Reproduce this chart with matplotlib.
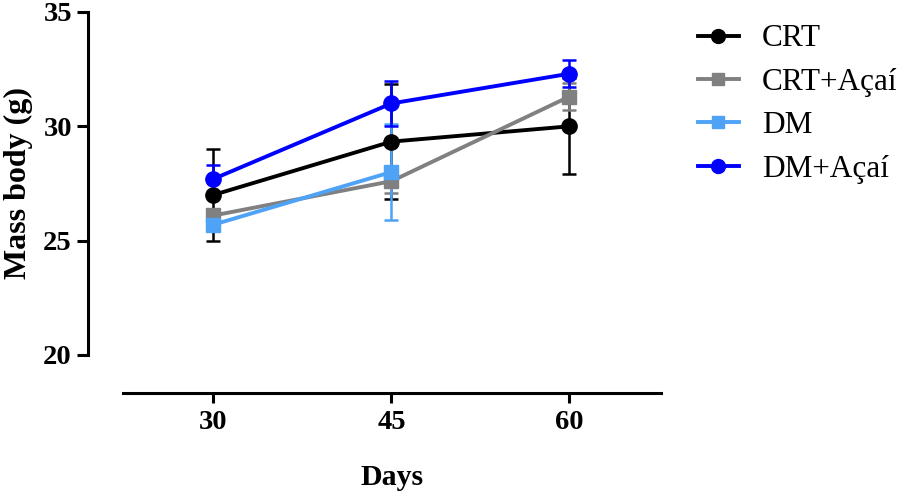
import matplotlib
matplotlib.use("Agg")
import matplotlib.pyplot as plt
from matplotlib.lines import Line2D

plt.rcParams['font.family'] = ['Liberation Serif', 'DejaVu Serif']

days = [30, 45, 60]

crt = [27.0, 29.33, 30.0]
crt_err = [2.0, 2.5, 2.1]
crt_acai = [26.1, 27.6, 31.3]
crt_acai_err = [0.2, 0.5, 0.6]
dm = [25.7, 28.0, None]
dm_err = [0.2, 2.1, None]
dm_acai = [27.7, 31.0, 32.3]
dm_acai_err = [0.6, 1.0, 0.6]

labels = ['CRT', 'CRT+Açaí', 'DM', 'DM+Açaí']
colors = ['#000000', '#808080', '#4FA3F7', '#0000FF']
markers = ['o', 's', 's', 'o']
msizes = [11, 10, 10, 11]

fig = plt.figure(figsize=(9.01, 4.99), dpi=100)
ax = fig.add_axes([0.1369, 0.2130, 0.5964, 0.7630])

series = [(crt, crt_err), (crt_acai, crt_acai_err), (dm, dm_err), (dm_acai, dm_acai_err)]
handles = []
for (vals, errs), lab, col, mk, ms in zip(series, labels, colors, markers, msizes):
    xs = [d for d, v in zip(days, vals) if v is not None]
    ys = [v for v in vals if v is not None]
    es = [e for e in errs if e is not None]
    ax.errorbar(xs, ys, yerr=es, color=col, marker=mk, markersize=ms,
                linewidth=2.8, elinewidth=1.8, capsize=5, capthick=1.8,
                clip_on=False)
    handles.append(Line2D([], [], color=col, marker=mk, markersize=ms - 1,
                          linewidth=2.8, label=lab))

ax.set_xlim(22.4, 67.7)
ax.set_ylim(18.35, 35)
ax.set_xticks(days)
ax.set_yticks([20, 25, 30, 35])

for s in ['top', 'right']:
    ax.spines[s].set_visible(False)
ax.spines['left'].set_position(('outward', 25.6))
ax.spines['left'].set_bounds(20, 35)
ax.spines['left'].set_linewidth(2.2)
ax.spines['bottom'].set_linewidth(2.2)

ax.tick_params(axis='both', width=2.2, labelsize=20.5)
ax.tick_params(axis='y', length=8, pad=3.5)
ax.tick_params(axis='x', length=7.5, pad=5)
for t in ax.get_xticklabels() + ax.get_yticklabels():
    t.set_fontweight('bold')

ax.set_xlabel('Days', fontsize=21.5, fontweight='bold')
ax.set_ylabel('Mass body (g)', fontsize=23, fontweight='bold')
ax.xaxis.set_label_coords(0.5, -0.187)
ax.yaxis.set_label_coords(-0.196, 0.5495)
ax.yaxis.label.set_va('center')

ax.legend(handles=handles, loc='upper left', bbox_to_anchor=(1.046, 1.0),
          frameon=False, fontsize=22.5, handlelength=1.3, handletextpad=0.75,
          labelspacing=0.46, borderaxespad=0)

fig.savefig('out.png', dpi=100)
